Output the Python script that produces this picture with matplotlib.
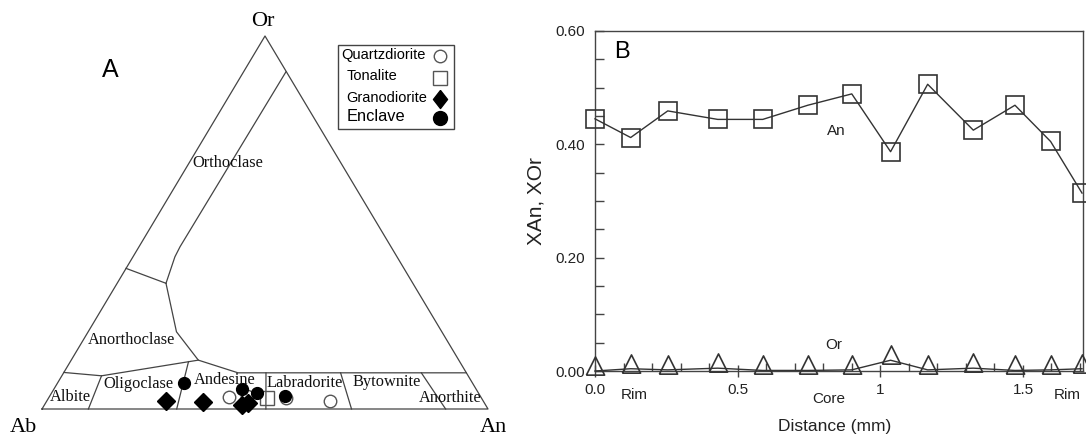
import numpy as np
import matplotlib
matplotlib.use("Agg")
import matplotlib.pyplot as plt
from matplotlib.patches import Rectangle

# ---------------- Panel A : feldspar ternary (An, Or fractions; Ab = 1 - An - Or)
qd_an = [0.403, 0.442, 0.532, 0.635]
qd_or = [0.033, 0.036, 0.030, 0.021]
ton_an = [0.491]
ton_or = [0.029]
gd_an = [0.268, 0.352, 0.442, 0.455]
gd_or = [0.021, 0.020, 0.011, 0.015]
enc_an = [0.285, 0.421, 0.460, 0.527]
enc_or = [0.069, 0.054, 0.044, 0.036]

# field boundaries as (An, Or) polylines
b_orth_anorth = [(0.0, 0.377), (0.1095, 0.337)]
b_sanidine = [(0.1095, 0.337), (0.094, 0.408), (0.092, 0.435), (0.095, 0.904)]
b_anorth_plag = [(0.1095, 0.337), (0.198, 0.207), (0.285, 0.131), (0.391, 0.097), (0.903, 0.097)]
b_plag_top = [(0.0, 0.098), (0.089, 0.089), (0.285, 0.131)]
b_ab_olig = [(0.089, 0.089), (0.104, 0.0)]
b_olig_and = [(0.265, 0.127), (0.302, 0.0)]
b_and_lab = [(0.4537, 0.097), (0.502, 0.0)]
b_lab_byt = [(0.621, 0.097), (0.694, 0.0)]
b_byt_anor = [(0.802, 0.097), (0.905, 0.0)]
boundaries = [b_orth_anorth, b_sanidine, b_anorth_plag, b_plag_top, b_ab_olig,
              b_olig_and, b_and_lab, b_lab_byt, b_byt_anor]

field_names = ["Orthoclase", "Anorthoclase", "Albite", "Oligoclase", "Andesine",
               "Labradorite", "Bytownite", "Anorthite"]
legend_labels = ["Quartzdiorite", "Tonalite", "Granodiorite", "Enclave"]

# ---------------- Panel B : zoning profile
dist = [0.0, 0.125, 0.255, 0.43, 0.588, 0.746, 0.90, 1.036, 1.166, 1.326, 1.472, 1.597, 1.707]
x_an = [0.445, 0.412, 0.459, 0.444, 0.444, 0.469, 0.489, 0.387, 0.506, 0.425, 0.469, 0.405, 0.314]
x_or = [0.000, 0.004, 0.002, 0.005, 0.001, 0.001, 0.002, 0.019, 0.002, 0.005, 0.001, 0.002, 0.004]
xtick_vals = [0.0, 0.5, 1.0, 1.5]
xtick_labels = ["0.0", "0.5", "1", "1.5"]
ytick_vals = [0.0, 0.2, 0.4, 0.6]
ytick_labels = ["0.00", "0.20", "0.40", "0.60"]

W, H = 1086, 436
fig = plt.figure(figsize=(W / 100, H / 100), dpi=100)
SANS = "Liberation Sans"
SERIF = "Liberation Serif"
LC = "#444444"

# ---- left panel in pixel-like coordinates
ax0 = fig.add_axes([0, 0, 1, 1])
ax0.set_xlim(0, W)
ax0.set_ylim(H, 0)
ax0.axis("off")

AB_V = np.array([42.0, 409.0])
AN_V = np.array([488.0, 409.0])
OR_V = np.array([265.0, 36.0])


def tern(an, orr):
    an = np.asarray(an, float)
    orr = np.asarray(orr, float)
    ab = 1 - an - orr
    x = ab * AB_V[0] + an * AN_V[0] + orr * OR_V[0]
    y = ab * AB_V[1] + an * AN_V[1] + orr * OR_V[1]
    return x, y


# outline
ox, oy = tern([0, 1, 0, 0], [0, 0, 1, 0])
ax0.plot(ox, oy, color=LC, lw=0.9)
for b in boundaries:
    a = [p[0] for p in b]
    o = [p[1] for p in b]
    bx, by = tern(a, o)
    ax0.plot(bx, by, color=LC, lw=0.9)

# field labels (pixel layout)
label_pos = {"Orthoclase": (228, 163), "Anorthoclase": (132, 340), "Albite": (70, 397),
             "Oligoclase": (138, 384), "Andesine": (225, 380), "Labradorite": (305, 383),
             "Bytownite": (387, 382), "Anorthite": (450, 398)}
for name in field_names:
    px, py = label_pos[name]
    ax0.text(px, py, name, family=SERIF, fontsize=11.8, ha="center", va="center", color="#111")

ax0.text(263, 22, "Or", family=SERIF, fontsize=16, ha="center", va="center")
ax0.text(23, 427, "Ab", family=SERIF, fontsize=16, ha="center", va="center")
ax0.text(493, 427, "An", family=SERIF, fontsize=16, ha="center", va="center")
ax0.text(110, 70, "A", family=SANS, fontsize=18, ha="center", va="center")

diamond = [(0, 1), (0.78, 0), (0, -1), (-0.78, 0), (0, 1)]

# data points
x, y = tern(qd_an, qd_or)
ax0.plot(x, y, ls="none", marker="o", ms=9, mfc="none", mec="#555", mew=1.0)
x, y = tern(ton_an, ton_or)
ax0.plot(x, y, ls="none", marker="s", ms=10, mfc="none", mec="#555", mew=1.0)
x, y = tern(gd_an, gd_or)
ax0.plot(x, y, ls="none", marker="D", ms=9, mfc="black", mec="black")
x, y = tern(enc_an, enc_or)
ax0.plot(x, y, ls="none", marker="o", ms=8.5, mfc="black", mec="black")

# legend box (manual layout so the labels are left aligned, keys on the right)
ax0.add_patch(Rectangle((338, 45), 116, 84, fill=True, facecolor="white",
                        edgecolor=LC, lw=1.0, zorder=4))
leg_text_xy = [(341.5, 55.5), (346.5, 76.5), (346, 98), (346.5, 116)]
leg_sizes = [10.5, 10.5, 10.5, 11.8]
leg_key_y = [55.7, 78.3, 99.3, 118.3]
leg_styles = [
    dict(marker="o", ms=9, mfc="white", mec="#555", mew=1.0),
    dict(marker="s", ms=9.5, mfc="white", mec="#555", mew=1.0),
    dict(marker=diamond, ms=13, mfc="black", mec="black"),
    dict(marker="o", ms=10, mfc="black", mec="black"),
]
for lab, (tx, ty), fs, ky, st in zip(legend_labels, leg_text_xy, leg_sizes, leg_key_y, leg_styles):
    ax0.text(tx, ty, lab, family=SANS, fontsize=fs, ha="left", va="center", zorder=5)
    ax0.plot([440], [ky], ls="none", zorder=5, **st)

# ---- right panel
L, R, T, B = 595, 1083, 31, 371
ax = fig.add_axes([L / W, (H - B) / H, (R - L) / W, (B - T) / H])
ax.set_xlim(0, (R - L) / 285.3)
ax.set_ylim(0, 0.6)

ax.plot(dist, x_an, color="#333", lw=1.0, marker="s", ms=13.5, mfc="none", mec="#333",
        mew=1.2, clip_on=False, zorder=3)
tri = [(-1, -0.4), (1, -0.4), (0, 1.6), (-1, -0.4)]
ax.plot(dist, x_or, color="#333", lw=1.0, marker=tri, ms=21, mfc="none", mec="#333",
        mew=1.2, clip_on=False, zorder=3)

for s in ax.spines.values():
    s.set_color(LC)
    s.set_linewidth(1.0)

ax.set_xticks(xtick_vals)
ax.set_xticklabels(xtick_labels)
ax.set_xticks(np.arange(0.1, 1.71, 0.1), minor=True)
ax.set_yticks(ytick_vals)
ax.set_yticklabels(ytick_labels)
ax.set_yticks(np.arange(0.05, 0.6, 0.05), minor=True)
ax.tick_params(axis="x", which="major", direction="inout", length=9, width=1.0,
               color=LC, pad=4, labelsize=11, labelcolor="#222")
ax.tick_params(axis="x", which="minor", direction="in", length=5.5, width=1.0, color=LC)
ax.tick_params(axis="y", which="major", direction="in", length=6.5, width=1.0,
               color=LC, pad=7, labelsize=11, labelcolor="#222")
ax.tick_params(axis="y", which="minor", direction="in", length=6.5, width=1.0, color=LC)
for lab in ax.get_xticklabels() + ax.get_yticklabels():
    lab.set_family(SANS)

ax.text(0.055, 0.938, "B", transform=ax.transAxes, family=SANS, fontsize=17,
        ha="center", va="center")
ax.text(0.845, 0.4235, "An", family=SANS, fontsize=11, ha="center", va="center", color="#222")
ax.text(0.838, 0.046, "Or", family=SANS, fontsize=11, ha="center", va="center", color="#222")

tr = ax.get_xaxis_transform()
ax.text(0.137, -0.0706, "Rim", transform=tr, family=SANS, fontsize=11, ha="center", va="center", color="#222")
ax.text(0.82, -0.081, "Core", transform=tr, family=SANS, fontsize=11, ha="center", va="center", color="#222")
ax.text(1.654, -0.0706, "Rim", transform=tr, family=SANS, fontsize=11, ha="center", va="center", color="#222")

ax.set_xlabel("Distance (mm)", family=SANS, fontsize=12.5, color="#222")
ax.xaxis.set_label_coords(0.492, -0.162)
ax.xaxis.label.set_va("center")
ax.set_ylabel("XAn, XOr", family=SANS, fontsize=15, color="#222")
ax.yaxis.set_label_coords(-0.121, 0.5)
ax.yaxis.label.set_va("center")

fig.savefig("out.png", dpi=100)
